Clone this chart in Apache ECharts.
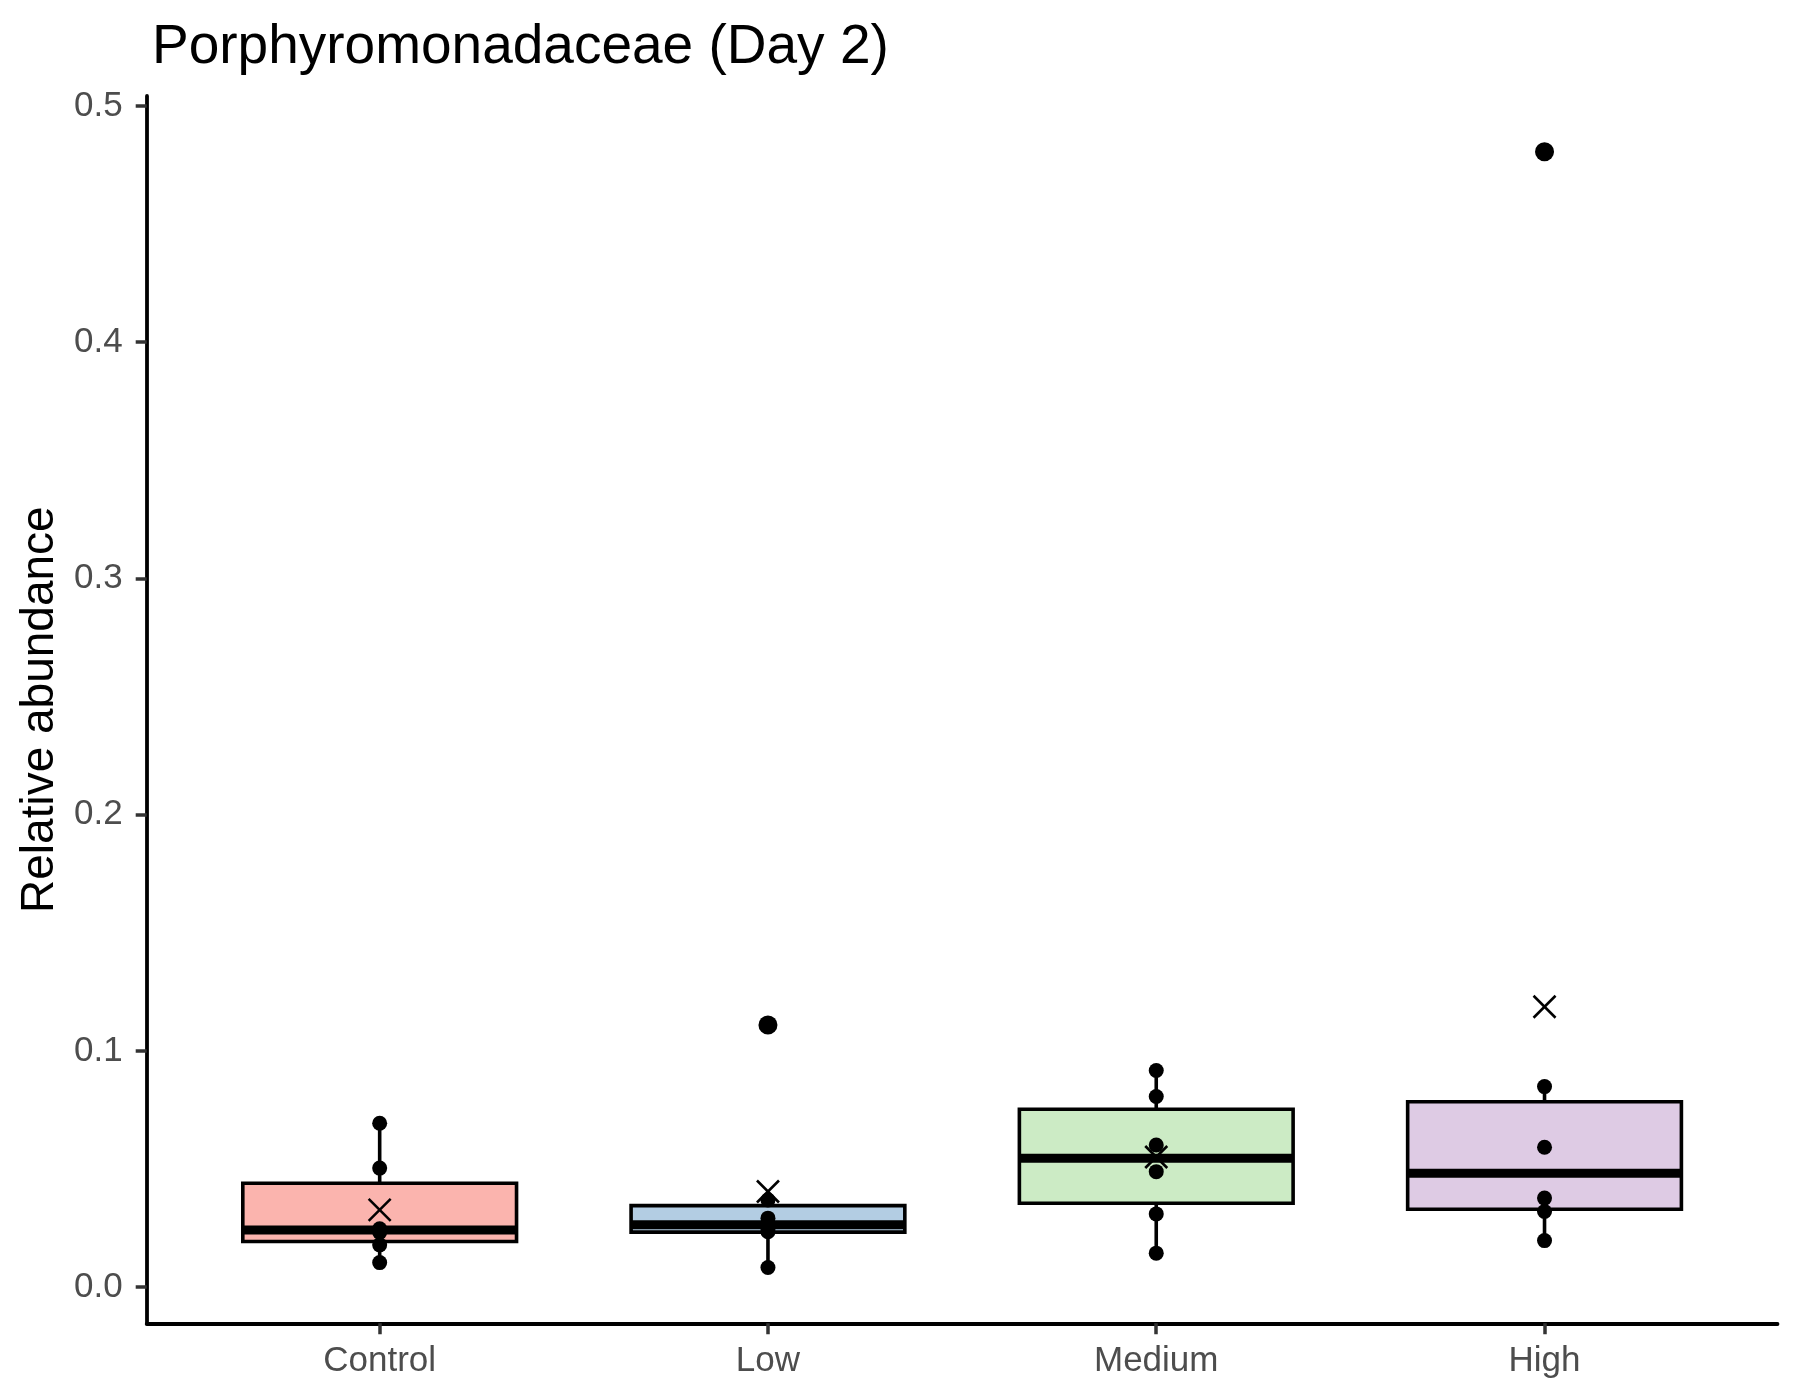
<!DOCTYPE html>
<html>
<head>
<meta charset="utf-8">
<title>Porphyromonadaceae (Day 2)</title>
<script src="https://cdn.jsdelivr.net/npm/echarts@6/dist/echarts.min.js"></script>
<style>
  html, body { margin: 0; padding: 0; background: #fff; }
  #main { width: 1800px; height: 1400px; }
</style>
</head>
<body>
<div id="main"></div>
<script>
// 分组
var categories = ['Control', 'Low', 'Medium', 'High'];
// 箱线: [下须, Q1, 中位数, Q3, 上须]
var boxStats = [
    [0.0104, 0.0193, 0.0242, 0.0440, 0.0694],
    [0.0083, 0.0233, 0.0264, 0.0345, 0.0369],
    [0.0144, 0.0355, 0.0546, 0.0753, 0.0917],
    [0.0197, 0.0330, 0.0482, 0.0785, 0.0849]
];
// 每组样本点
var controlPoints = [0.0694, 0.0504, 0.0247, 0.0232, 0.0179, 0.0104];
var lowPoints = [0.0369, 0.0292, 0.0249, 0.0235, 0.0083];
var mediumPoints = [0.0917, 0.0807, 0.0602, 0.0489, 0.0310, 0.0144];
var highPoints = [0.0849, 0.0592, 0.0377, 0.0320, 0.0197];
// 离群点 [组序号, 值]
var outliers = [[1, 0.1110], [3, 0.4806]];
// 均值
var means = [0.0327, 0.0405, 0.0551, 0.1187];
// 刻度
var yTicks = [0, 0.1, 0.2, 0.3, 0.4, 0.5];

var fills = ['#FBB4AE', '#B3CDE3', '#CCEBC5', '#DECBE4'];
var boxWidth = 0.705;

var pointData = [];
[controlPoints, lowPoints, mediumPoints, highPoints].forEach(function (arr, i) {
    arr.forEach(function (v) { pointData.push([i, v]); });
});
var boxData = boxStats.map(function (s, i) { return [i].concat(s); });
var meanData = means.map(function (v, i) { return [i, v]; });

function renderBox(params, api) {
    var i = api.value(0);
    var low = api.coord([i, api.value(1)]);
    var q1 = api.coord([i, api.value(2)]);
    var med = api.coord([i, api.value(3)]);
    var q3 = api.coord([i, api.value(4)]);
    var high = api.coord([i, api.value(5)]);
    var hw = api.size([boxWidth, 0])[0] / 2;
    var x = med[0];
    return {
        type: 'group',
        children: [
            { type: 'line', shape: { x1: x, y1: low[1], x2: x, y2: q1[1] }, style: { stroke: '#000', lineWidth: 3.6 } },
            { type: 'line', shape: { x1: x, y1: q3[1], x2: x, y2: high[1] }, style: { stroke: '#000', lineWidth: 3.6 } },
            { type: 'rect', shape: { x: x - hw, y: q3[1], width: hw * 2, height: q1[1] - q3[1] },
              style: { fill: fills[i], stroke: '#000', lineWidth: 3.6 } },
            { type: 'line', shape: { x1: x - hw, y1: med[1], x2: x + hw, y2: med[1] }, style: { stroke: '#000', lineWidth: 9 } }
        ]
    };
}

function renderCross(params, api) {
    var c = api.coord([api.value(0), api.value(1)]);
    var r = 11;
    return {
        type: 'group',
        children: [
            { type: 'line', shape: { x1: c[0] - r, y1: c[1] - r, x2: c[0] + r, y2: c[1] + r }, style: { stroke: '#000', lineWidth: 2.6 } },
            { type: 'line', shape: { x1: c[0] - r, y1: c[1] + r, x2: c[0] + r, y2: c[1] - r }, style: { stroke: '#000', lineWidth: 2.6 } }
        ]
    };
}

var myChart = echarts.init(document.getElementById('main'));
var option = {
    backgroundColor: '#fff',
    animation: false,
    title: {
        text: 'Porphyromonadaceae (Day 2)',
        left: 147,
        top: 15,
        textStyle: { fontFamily: 'Liberation Sans', fontSize: 55, fontWeight: 'normal', color: '#000' }
    },
    grid: { left: 146.7, right: 22.5, top: 96, bottom: 76.7, containLabel: false },
    xAxis: {
        type: 'value',
        min: -0.6,
        max: 3.6,
        splitLine: { show: false },
        axisLine: { show: true, onZero: false, lineStyle: { color: '#000', width: 3.8 } },
        axisTick: { show: true, length: 11, customValues: [0, 1, 2, 3], lineStyle: { color: '#333', width: 3.5 } },
        axisLabel: {
            customValues: [0, 1, 2, 3],
            margin: 21,
            fontFamily: 'Liberation Sans',
            fontSize: 35,
            color: '#4D4D4D',
            formatter: function (v) { return categories[Math.round(v)]; }
        }
    },
    yAxis: {
        type: 'value',
        min: -0.0153,
        max: 0.5042,
        name: 'Relative abundance',
        nameLocation: 'middle',
        nameGap: 82,
        nameTextStyle: { fontFamily: 'Liberation Sans', fontSize: 46, color: '#000' },
        splitLine: { show: false },
        axisLine: { show: true, onZero: false, lineStyle: { color: '#000', width: 3.8 } },
        axisTick: { show: true, length: 11, customValues: yTicks, lineStyle: { color: '#333', width: 3.5 } },
        axisLabel: {
            customValues: yTicks,
            margin: 24,
            fontFamily: 'Liberation Sans',
            fontSize: 35,
            color: '#4D4D4D',
            formatter: function (v) { return v.toFixed(1); }
        }
    },
    series: [
        {
            name: 'box',
            type: 'custom',
            renderItem: renderBox,
            encode: { x: 0, y: [1, 2, 3, 4, 5] },
            data: boxData,
            z: 2
        },
        {
            name: 'outlier',
            type: 'scatter',
            symbol: 'circle',
            symbolSize: 19,
            itemStyle: { color: '#000', opacity: 1 },
            data: outliers,
            z: 3
        },
        {
            name: 'points',
            type: 'scatter',
            symbol: 'circle',
            symbolSize: 15,
            itemStyle: { color: '#000', opacity: 1 },
            data: pointData,
            z: 4
        },
        {
            name: 'mean',
            type: 'custom',
            renderItem: renderCross,
            encode: { x: 0, y: 1 },
            data: meanData,
            z: 5
        }
    ]
};
myChart.setOption(option);
</script>
</body>
</html>
